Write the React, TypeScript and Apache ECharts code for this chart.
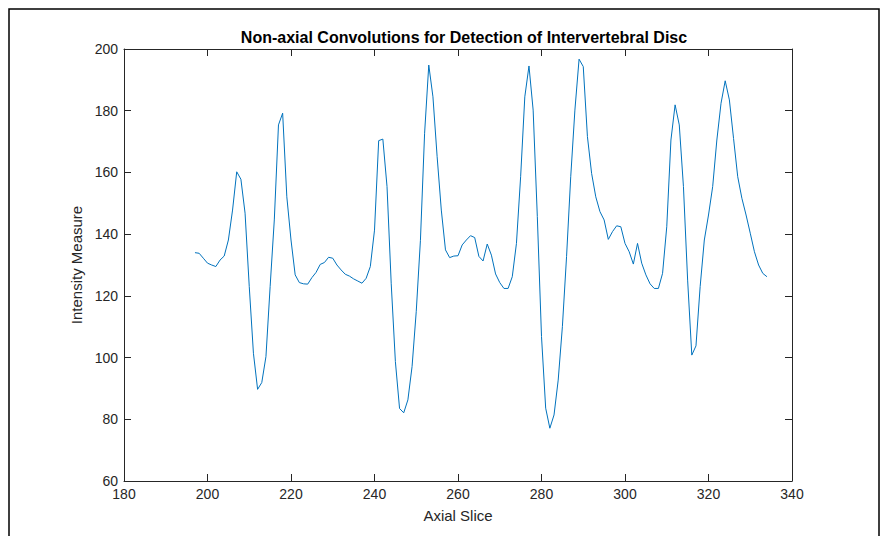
import React, { useEffect, useRef } from "react";
import * as echarts from "echarts";

const titleText = "Non-axial Convolutions for Detection of Intervertebral Disc";
const xAxisName = "Axial Slice";
const yAxisName = "Intensity Measure";

const xTicks = [180, 200, 220, 240, 260, 280, 300, 320, 340];
const yTicks = [60, 80, 100, 120, 140, 160, 180, 200];

const axialSlice = [
  197, 198, 199, 200, 201, 202, 203, 204, 205, 206,
  207, 208, 209, 210, 211, 212, 213, 214, 215, 216,
  217, 218, 219, 220, 221, 222, 223, 224, 225, 226,
  227, 228, 229, 230, 231, 232, 233, 234, 235, 236,
  237, 238, 239, 240, 241, 242, 243, 244, 245, 246,
  247, 248, 249, 250, 251, 252, 253, 254, 255, 256,
  257, 258, 259, 260, 261, 262, 263, 264, 265, 266,
  267, 268, 269, 270, 271, 272, 273, 274, 275, 276,
  277, 278, 279, 280, 281, 282, 283, 284, 285, 286,
  287, 288, 289, 290, 291, 292, 293, 294, 295, 296,
  297, 298, 299, 300, 301, 302, 303, 304, 305, 306,
  307, 308, 309, 310, 311, 312, 313, 314, 315, 316,
  317, 318, 319, 320, 321, 322, 323, 324, 325, 326,
  327, 328, 329, 330, 331, 332, 333, 334,
];

const intensity = [
  134.0, 133.8, 132.2, 130.6, 130.0, 129.5, 131.6, 132.9, 138.1, 147.8,
  160.2, 157.8, 146.8, 123.0, 101.4, 89.7, 91.9, 100.3, 123.0, 144.6,
  175.4, 179.2, 152.1, 138.1, 126.8, 124.3, 123.9, 123.8, 125.9, 127.6,
  130.2, 130.8, 132.5, 132.2, 130.0, 128.4, 127.0, 126.4, 125.5, 124.8,
  124.1, 125.7, 129.5, 141.3, 170.3, 170.8, 155.4, 124.1, 98.7, 83.5,
  82.1, 86.3, 97.1, 115.0, 138.0, 172.7, 194.8, 184.5, 165.1, 147.8,
  134.9, 132.4, 132.9, 133.0, 136.5, 138.1, 139.5, 138.9, 132.8, 131.3,
  136.8, 133.2, 127.1, 124.3, 122.4, 122.4, 126.2, 137.0, 158.6, 184.5,
  194.5, 180.2, 145.7, 106.8, 83.6, 77.1, 81.4, 92.7, 110.0, 132.7,
  158.6, 180.2, 196.7, 194.3, 171.6, 159.7, 152.1, 147.3, 144.6, 138.3,
  140.8, 142.7, 142.4, 137.0, 134.3, 130.3, 137.0, 130.6, 126.8, 123.9,
  122.4, 122.4, 127.3, 142.4, 170.5, 181.9, 175.4, 155.4, 125.1, 100.8,
  103.8, 123.0, 138.1, 146.2, 155.4, 170.5, 182.4, 189.7, 183.5, 171.0,
  158.6, 151.6, 146.2, 140.3, 134.3, 130.0, 127.3, 126.2,
];

export default function App() {
  const ref = useRef<HTMLDivElement>(null);
  useEffect(() => {
    if (!ref.current) return;
    const chart = echarts.init(ref.current, undefined, { renderer: "svg" });
    const font = "'Liberation Sans', Arial, Helvetica, sans-serif";
    const axisColor = "#262626";
    const xMin = xTicks[0];
    const xMax = xTicks[xTicks.length - 1];
    const xStep = xTicks[1] - xTicks[0];
    const yMin = yTicks[0];
    const yMax = yTicks[yTicks.length - 1];
    const yStep = yTicks[1] - yTicks[0];
    const baseX = {
      type: "value" as const,
      min: xMin,
      max: xMax,
      interval: xStep,
      splitLine: { show: false },
      axisLine: { show: true, onZero: false, lineStyle: { color: axisColor, width: 1 } },
      axisTick: { show: true, inside: true, length: 7, lineStyle: { color: axisColor } },
    };
    const baseY = {
      type: "value" as const,
      min: yMin,
      max: yMax,
      interval: yStep,
      splitLine: { show: false },
      axisLine: { show: true, onZero: false, lineStyle: { color: axisColor, width: 1 } },
      axisTick: { show: true, inside: true, length: 7, lineStyle: { color: axisColor } },
    };
    chart.setOption({
      animation: false,
      backgroundColor: "#ffffff",
      title: {
        text: titleText,
        left: 459,
        top: 24,
        textAlign: "center",
        textStyle: { fontFamily: font, fontSize: 16, fontWeight: "bold", color: "#000000" },
      },
      grid: { left: 124, right: 94, top: 49, bottom: 55 },
      xAxis: [
        {
          ...baseX,
          position: "bottom",
          name: xAxisName,
          nameLocation: "middle",
          nameGap: 27,
          nameTextStyle: { fontFamily: font, fontSize: 15, color: axisColor },
          axisLabel: { fontFamily: font, fontSize: 14, color: axisColor, margin: 6 },
        },
        { ...baseX, position: "top", axisLabel: { show: false } },
      ],
      yAxis: [
        {
          ...baseY,
          position: "left",
          name: yAxisName,
          nameLocation: "middle",
          nameGap: 37,
          nameTextStyle: { fontFamily: font, fontSize: 15, color: axisColor },
          axisLabel: { fontFamily: font, fontSize: 14, color: axisColor, margin: 6 },
        },
        { ...baseY, position: "right", axisLabel: { show: false } },
      ],
      series: [
        {
          type: "line",
          xAxisIndex: 0,
          yAxisIndex: 0,
          data: axialSlice.map((x, i) => [x, intensity[i]]),
          showSymbol: false,
          symbol: "none",
          lineStyle: { color: "#0072BD", width: 1 },
        },
      ],
      graphic: [
        {
          type: "rect",
          shape: { x: 9, y: 9, width: 870, height: 560 },
          style: { fill: "none", stroke: "#000000", lineWidth: 1.5 },
          silent: true,
        },
      ],
    });
    return () => chart.dispose();
  }, []);
  return (
    <div
      ref={ref}
      style={{ position: "fixed", left: 0, top: 0, width: 886, height: 536 }}
    />
  );
}
